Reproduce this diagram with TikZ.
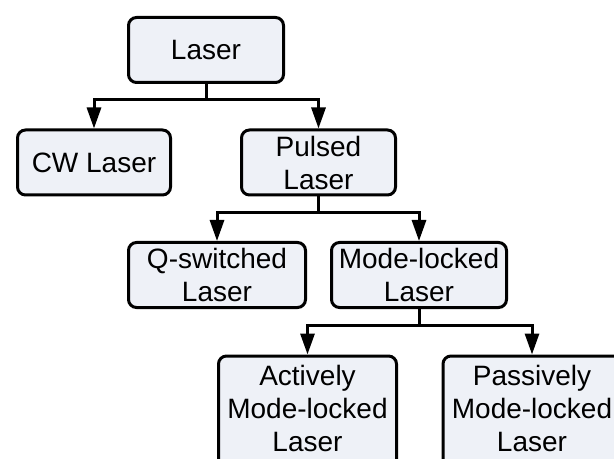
\documentclass[tikz,border=0pt]{standalone}
\usepackage{fontspec}
\setmainfont{Liberation Sans}
\usepackage{tikz}
\usetikzlibrary{arrows.meta}
\definecolor{boxfill}{RGB}{238,241,247}

\begin{document}
\begin{tikzpicture}[x=0.5pt, y=-0.5pt,
  laserbox/.style={draw, line width=1.5pt, rounded corners=4pt, fill=boxfill,
    align=center, inner sep=0pt, minimum height=32.5pt,
    font=\fontsize{14}{16.5}\selectfont},
  branch/.style={line width=1.5pt, -{Triangle[length=10.5pt, width=7pt]}}]
\useasboundingbox (0,0) rectangle (614,459);
\clip (0,0) rectangle (614,459);

% tree of laser types
\node[laserbox, minimum width=77.5pt] (laser) at (206,50) {Laser};
\node[laserbox, minimum width=76.5pt] (cw) at (94,162.5) {CW Laser};
\node[laserbox, minimum width=77pt] (pulsed) at (318.5,162.5) {Pulsed\\Laser};
\node[laserbox, minimum width=88.5pt] (qsw) at (217,275) {Q-switched\\Laser};
\node[laserbox, minimum width=87.5pt] (mlock) at (419,275) {Mode-locked\\Laser};
\node[laserbox, minimum width=89pt, minimum height=58pt, text depth=6pt,
  anchor=north] (active) at (307.5,354.5) {Actively\\Mode-locked\\Laser};
\node[laserbox, minimum width=89pt, minimum height=58pt, text depth=6pt,
  anchor=north] (passive) at (532,354.5) {Passively\\Mode-locked\\Laser};

\draw[branch] (laser.south) -- ++(0,16) -| (cw.north);
\draw[branch] (laser.south) -- ++(0,16) -| (pulsed.north);
\draw[branch] (pulsed.south) -- ++(0,16) -| (qsw.north);
\draw[branch] (pulsed.south) -- ++(0,16) -| (mlock.north);
\draw[branch] (mlock.south) -- ++(0,16) -| (active.north);
\draw[branch] (mlock.south) -- ++(0,16) -| (passive.north);
\end{tikzpicture}
\end{document}
